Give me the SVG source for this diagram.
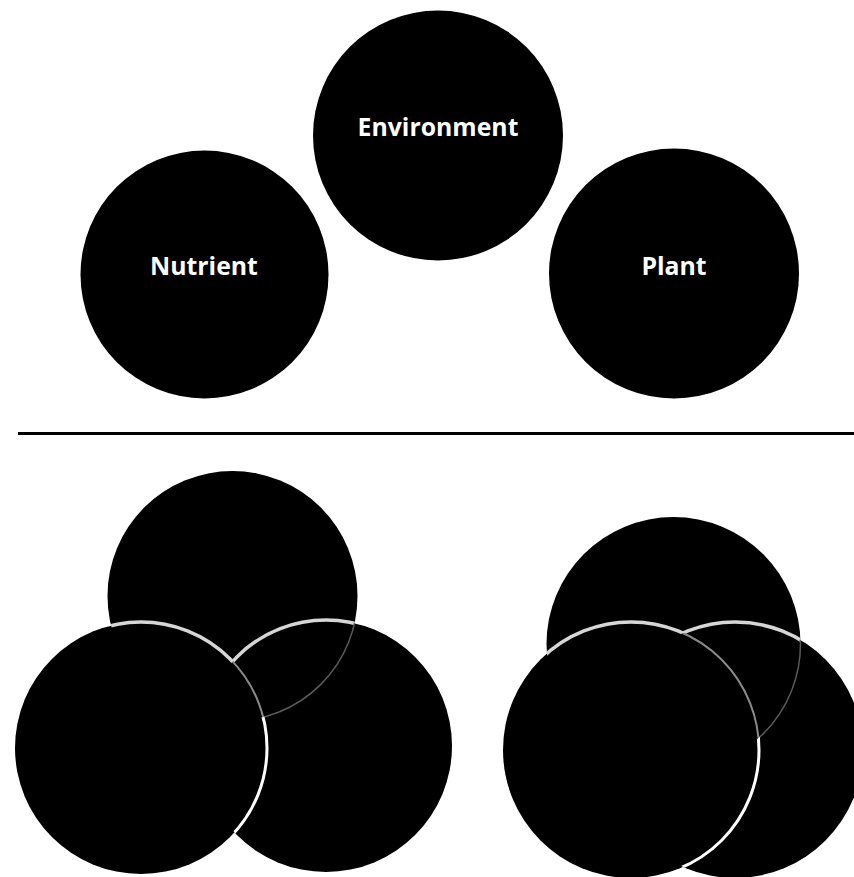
<svg xmlns="http://www.w3.org/2000/svg" width="854" height="877" viewBox="0 0 854 877">
<style>
  .node { fill: #000; }
  .lbl { fill: #fff; font-family: "Open Sans", "Liberation Sans", sans-serif; font-weight: 700; font-size: 24.8px; text-anchor: middle; }
  .light { fill: none; stroke: #d6d6d6; stroke-width: 3.5; }
  .mid { fill: none; stroke: #8a8a8a; stroke-width: 2; }
  .dark { fill: none; stroke: #5a5a5a; stroke-width: 1.5; }
  .white { fill: none; stroke: #fff; stroke-width: 3; }
</style>
<defs>
  <clipPath id="a-cT"><circle cx="232.5" cy="596" r="125"/></clipPath>
  <clipPath id="a-cR"><circle cx="326" cy="746" r="126"/></clipPath>
  <mask id="a-TnotR" maskUnits="userSpaceOnUse" x="0" y="0" width="854" height="877">
    <circle cx="232.5" cy="596" r="125" fill="#fff"/><circle cx="326" cy="746" r="126" fill="#000"/>
  </mask>
  <mask id="a-TnotL" maskUnits="userSpaceOnUse" x="0" y="0" width="854" height="877">
    <circle cx="232.5" cy="596" r="125" fill="#fff"/><circle cx="141" cy="748" r="126" fill="#000"/>
  </mask>
  <mask id="a-RnotL" maskUnits="userSpaceOnUse" x="0" y="0" width="854" height="877">
    <circle cx="326" cy="746" r="126" fill="#fff"/><circle cx="141" cy="748" r="126" fill="#000"/>
  </mask>
  <mask id="a-RnotT" maskUnits="userSpaceOnUse" x="0" y="0" width="854" height="877">
    <circle cx="326" cy="746" r="126" fill="#fff"/><circle cx="232.5" cy="596" r="125" fill="#000"/>
  </mask>
  <clipPath id="b-cT"><circle cx="673.5" cy="644" r="127"/></clipPath>
  <clipPath id="b-cR"><circle cx="735" cy="750" r="128"/></clipPath>
  <mask id="b-TnotR" maskUnits="userSpaceOnUse" x="0" y="0" width="854" height="877">
    <circle cx="673.5" cy="644" r="127" fill="#fff"/><circle cx="735" cy="750" r="128" fill="#000"/>
  </mask>
  <mask id="b-TnotL" maskUnits="userSpaceOnUse" x="0" y="0" width="854" height="877">
    <circle cx="673.5" cy="644" r="127" fill="#fff"/><circle cx="631" cy="750" r="128" fill="#000"/>
  </mask>
  <mask id="b-RnotL" maskUnits="userSpaceOnUse" x="0" y="0" width="854" height="877">
    <circle cx="735" cy="750" r="128" fill="#fff"/><circle cx="631" cy="750" r="128" fill="#000"/>
  </mask>
  <mask id="b-RnotT" maskUnits="userSpaceOnUse" x="0" y="0" width="854" height="877">
    <circle cx="735" cy="750" r="128" fill="#fff"/><circle cx="673.5" cy="644" r="127" fill="#000"/>
  </mask>
</defs>
<rect width="854" height="877" fill="#fff"/>

<g id="environment">
  <circle class="node" cx="438" cy="135.5" r="125"/>
  <text class="lbl" x="438" y="136">Environment</text>
</g>
<g id="nutrient">
  <circle class="node" cx="204.5" cy="274.5" r="124"/>
  <text class="lbl" x="204" y="275">Nutrient</text>
</g>
<g id="plant">
  <circle class="node" cx="674" cy="273.5" r="125"/>
  <text class="lbl" x="674" y="275">Plant</text>
</g>

<g id="divider">
  <line x1="18" y1="433.5" x2="854" y2="433.5" stroke="#000" stroke-width="3"/>
</g>

<g id="venn-left">
  <circle class="node" cx="232.5" cy="596" r="125"/>
  <circle class="node" cx="326" cy="746" r="126"/>
  <circle class="node" cx="141" cy="748" r="126"/>
  <circle class="light" cx="141" cy="748" r="126" mask="url(#a-TnotR)"/>
  <circle class="light" cx="326" cy="746" r="126" mask="url(#a-TnotL)"/>
  <circle class="dark" cx="232.5" cy="596" r="125" mask="url(#a-RnotL)"/>
  <g clip-path="url(#a-cR)"><circle class="mid" cx="141" cy="748" r="126" clip-path="url(#a-cT)"/></g>
  <circle class="white" cx="141" cy="748" r="126" mask="url(#a-RnotT)"/>
</g>

<g id="venn-right">
  <circle class="node" cx="673.5" cy="644" r="127"/>
  <circle class="node" cx="735" cy="750" r="128"/>
  <circle class="node" cx="631" cy="750" r="128"/>
  <circle class="light" cx="631" cy="750" r="128" mask="url(#b-TnotR)"/>
  <circle class="light" cx="735" cy="750" r="128" mask="url(#b-TnotL)"/>
  <circle class="dark" cx="673.5" cy="644" r="127" mask="url(#b-RnotL)"/>
  <g clip-path="url(#b-cR)"><circle class="mid" cx="631" cy="750" r="128" clip-path="url(#b-cT)"/></g>
  <circle class="white" cx="631" cy="750" r="128" mask="url(#b-RnotT)"/>
</g>
</svg>
